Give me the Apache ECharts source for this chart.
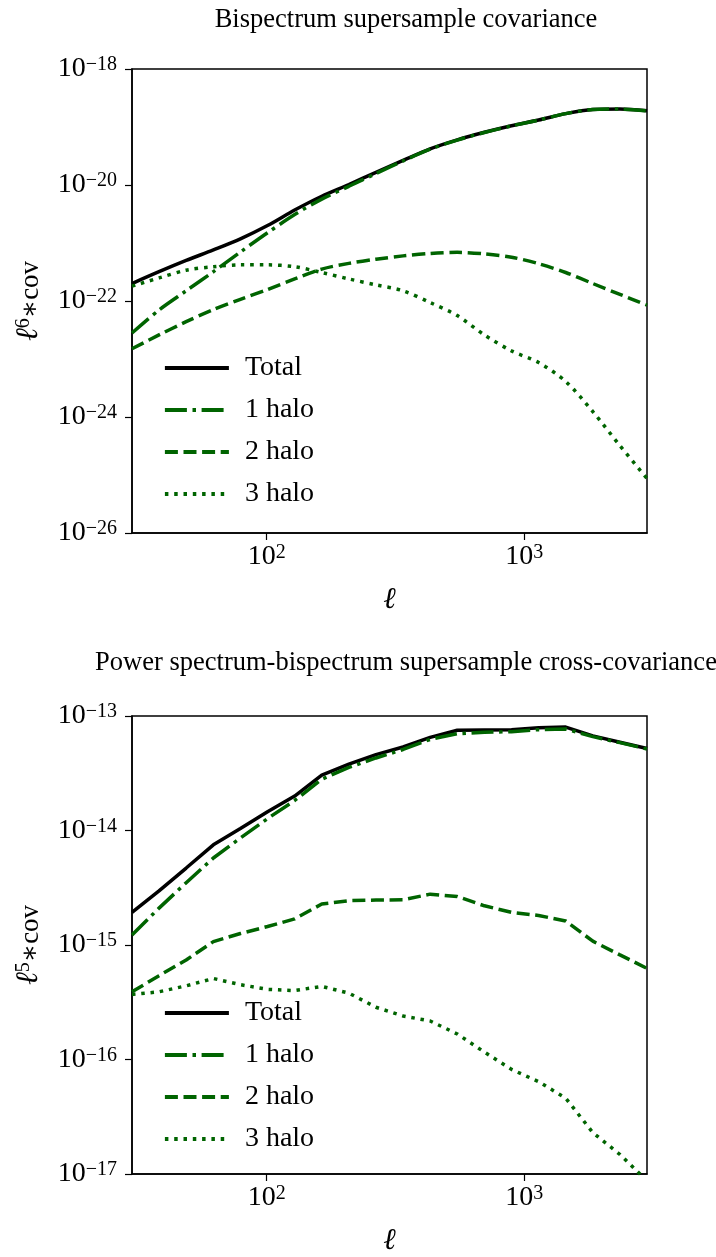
<!DOCTYPE html>
<html><head><meta charset="utf-8">
<script src="https://cdn.jsdelivr.net/npm/echarts@6/dist/echarts.min.js"></script>
<style>html,body{margin:0;padding:0;background:#fff}#c{width:716px;height:1257px}</style>
</head><body><div id="c"></div>
<script>
// multipole bins
const ell = [30, 38.2, 48.7, 62.1, 79.1, 100.8, 128.5, 163.7, 208.6, 265.8, 338.7, 431.6, 550, 701, 893, 1138, 1450, 1848, 2355, 3000];

// Panel 1: bispectrum supersample covariance (ell^6 * cov)
const bisTotal = [2.0e-22, 3.2e-22, 5.0e-22, 7.6e-22, 1.18e-21, 2.0e-21, 3.7e-21, 6.4e-21, 1.02e-20, 1.65e-20, 2.65e-20, 4.2e-20, 6.0e-20, 8.1e-20, 1.05e-19, 1.32e-19, 1.7e-19, 2.0e-19, 2.04e-19, 1.9e-19];
const bis1h = [2.8e-23, 7.0e-23, 1.5e-22, 3.2e-22, 7.0e-22, 1.5e-21, 3.1e-21, 5.7e-21, 9.5e-21, 1.58e-20, 2.6e-20, 4.15e-20, 5.95e-20, 8.05e-20, 1.045e-19, 1.315e-19, 1.7e-19, 2.0e-19, 2.04e-19, 1.9e-19];
const bis2h = [1.5e-23, 2.6e-23, 4.4e-23, 7.1e-23, 1.07e-22, 1.58e-22, 2.4e-22, 3.55e-22, 4.45e-22, 5.25e-22, 6.0e-22, 6.6e-22, 6.9e-22, 6.5e-22, 5.7e-22, 4.4e-22, 3.1e-22, 2.0e-22, 1.3e-22, 8.5e-23];
const bis3h = [1.8e-22, 2.5e-22, 3.4e-22, 3.9e-22, 4.2e-22, 4.2e-22, 3.9e-22, 3.1e-22, 2.4e-22, 1.9e-22, 1.5e-22, 9.4e-23, 5.6e-23, 2.6e-23, 1.38e-23, 8.7e-24, 4.1e-24, 1.24e-24, 3.2e-25, 8.7e-26];

// Panel 2: power spectrum-bispectrum cross-covariance (ell^5 * cov)
const crossTotal = [1.93e-15, 2.97e-15, 4.7e-15, 7.5e-15, 1.04e-14, 1.46e-14, 2.0e-14, 3.05e-14, 3.8e-14, 4.6e-14, 5.36e-14, 6.5e-14, 7.5e-14, 7.55e-14, 7.6e-14, 7.9e-14, 8.0e-14, 6.7e-14, 5.9e-14, 5.2e-14];
const cross1h = [1.22e-15, 2.1e-15, 3.5e-15, 5.75e-15, 8.6e-15, 1.27e-14, 1.83e-14, 2.8e-14, 3.56e-14, 4.3e-14, 5.1e-14, 6.25e-14, 7.0e-14, 7.2e-14, 7.3e-14, 7.6e-14, 7.7e-14, 6.6e-14, 5.85e-14, 5.15e-14];
const cross2h = [3.9e-16, 5.4e-16, 7.4e-16, 1.07e-15, 1.26e-15, 1.45e-15, 1.69e-15, 2.28e-15, 2.44e-15, 2.47e-15, 2.48e-15, 2.78e-15, 2.65e-15, 2.2e-15, 1.93e-15, 1.81e-15, 1.62e-15, 1.08e-15, 8.2e-16, 6.25e-16];
const cross3h = [3.7e-16, 3.9e-16, 4.4e-16, 5.1e-16, 4.5e-16, 4.1e-16, 4.0e-16, 4.35e-16, 3.8e-16, 2.86e-16, 2.4e-16, 2.17e-16, 1.67e-16, 1.16e-16, 8.2e-17, 6.4e-17, 4.6e-17, 2.3e-17, 1.48e-17, 8.7e-18];

const seriesNames = ['Total', '1 halo', '2 halo', '3 halo'];
const titles = ['Bispectrum supersample covariance', 'Power spectrum-bispectrum supersample cross-covariance'];
const xTicks = [100, 1000];
const yTicksTop = [1e-26, 1e-24, 1e-22, 1e-20, 1e-18];
const yTicksBottom = [1e-17, 1e-16, 1e-15, 1e-14, 1e-13];
const yPowers = ['6', '5'];

const FONT = 'Liberation Serif, DejaVu Serif, serif';
const GREEN = '#006400';
const lineStyles = [
  { color: '#000000', type: 'solid' },
  { color: GREEN, type: [22, 5.6, 3.5, 5.6] },
  { color: GREEN, type: [13, 5.6] },
  { color: GREEN, type: [3.5, 5.8] }
];

function powLabel(v) {
  const e = Math.round(Math.log10(v));
  return '{b|10}{s|' + (e < 0 ? '\u2212' : '') + Math.abs(e) + '}';
}
function makeRich(basePadTop) {
  return {
    b: { fontSize: 28, fontFamily: FONT, color: '#000', verticalAlign: 'bottom', lineHeight: 28, padding: [basePadTop, 0, 0, 0] },
    s: { fontSize: 20, fontFamily: FONT, color: '#000', verticalAlign: 'top', lineHeight: 20, padding: [0, 0, 14, 0] }
  };
}
const xRich = makeRich(4);
const yRich = makeRich(8);

const grids = [
  { left: 132, top: 69, width: 515, height: 464 },
  { left: 132, top: 716, width: 515, height: 464 }
];

const panels = [
  { data: [bisTotal, bis1h, bis2h, bis3h], yTicks: yTicksTop, smooth: 0.3 },
  { data: [crossTotal, cross1h, cross2h, cross3h], yTicks: yTicksBottom, smooth: false }
];

const option = {
  animation: false,
  backgroundColor: '#fff',
  title: titles.map((t, i) => ({
    text: t, left: 401, top: i === 0 ? 2 : 645, textAlign: 'center',
    textStyle: { fontFamily: FONT, fontSize: 26.5, fontWeight: 'normal', color: '#000' }
  })),
  grid: grids.map(g => Object.assign({ show: true, borderColor: '#000', borderWidth: 1.5, backgroundColor: 'transparent' }, g)),
  legend: [349, 994].map(top => ({
    left: 158, top: top, orient: 'vertical', itemWidth: 64, itemHeight: 28, itemGap: 14,
    selectedMode: false, data: seriesNames,
    itemStyle: { opacity: 0 },
    lineStyle: { width: 3.8 },
    textStyle: { fontFamily: FONT, fontSize: 28, color: '#000', padding: [0, 0, 0, 11] }
  })),
  xAxis: panels.map((p, i) => ({
    type: 'log', logBase: 10, gridIndex: i, min: 30, max: 3000,
    axisLine: { show: true, lineStyle: { color: '#000', width: 1.5 } },
    axisTick: { show: true, customValues: xTicks, length: 7, lineStyle: { color: '#000', width: 1.2 } },
    axisLabel: { customValues: xTicks, formatter: powLabel, rich: xRich, margin: 10, color: '#000' },
    splitLine: { show: false }, minorTick: { show: false },
    name: '\u2113', nameLocation: 'middle', nameGap: 52,
    nameTextStyle: { fontFamily: FONT, fontSize: 30, fontStyle: 'italic', color: '#000' }
  })),
  yAxis: panels.map((p, i) => ({
    type: 'log', logBase: 10, gridIndex: i, min: p.yTicks[0], max: p.yTicks[p.yTicks.length - 1],
    axisLine: { show: true, lineStyle: { color: '#000', width: 1.5 } },
    axisTick: { show: true, customValues: p.yTicks, length: 7, lineStyle: { color: '#000', width: 1.2 } },
    axisLabel: { customValues: p.yTicks, formatter: powLabel, rich: yRich, margin: 15, color: '#000' },
    splitLine: { show: false }, minorTick: { show: false },
    name: '{l|\u2113}{s|' + yPowers[i] + '}{t|\u2217cov}', nameLocation: 'middle', nameGap: 88, nameRotate: 90,
    nameTextStyle: {
      color: '#000',
      rich: {
        l: { fontFamily: FONT, fontSize: 31, fontStyle: 'italic', color: '#000', verticalAlign: 'bottom', lineHeight: 30 },
        s: { fontFamily: FONT, fontSize: 20, color: '#000', verticalAlign: 'top', lineHeight: 20, padding: [0, 0, 12, 0] },
        t: { fontFamily: FONT, fontSize: 27, color: '#000', verticalAlign: 'bottom', lineHeight: 30 }
      }
    }
  })),
  series: []
};

panels.forEach((p, pi) => {
  p.data.forEach((vals, si) => {
    option.series.push({
      type: 'line', name: seriesNames[si], xAxisIndex: pi, yAxisIndex: pi,
      data: ell.map((l, k) => [l, vals[k]]),
      symbol: 'none', showSymbol: false, smooth: p.smooth, clip: true,
      lineStyle: { color: lineStyles[si].color, type: lineStyles[si].type, width: 3.5 },
      itemStyle: { color: lineStyles[si].color },
      z: 2 + si
    });
  });
});

const chart = echarts.init(document.getElementById('c'), null, { renderer: 'canvas' });
chart.setOption(option);
</script>
</body></html>
